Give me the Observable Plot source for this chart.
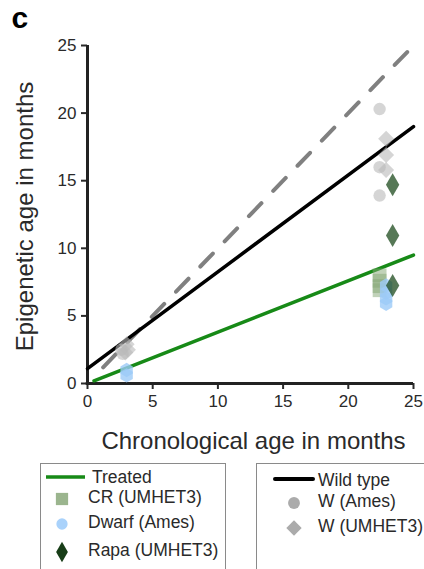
<!DOCTYPE html>
<html>
<head>
<meta charset="utf-8">
<script src="https://cdn.jsdelivr.net/npm/d3@7"></script>
<script src="https://cdn.jsdelivr.net/npm/@observablehq/plot@0.6"></script>
<style>
  html, body { margin: 0; padding: 0; background: #fff; }
  #chart { width: 424px; font-family: "Liberation Sans", Arial, Helvetica, sans-serif; }
  #chart svg { display: block; }
</style>
</head>
<body>
<div id="chart"></div>
<script>
// Epigenetic vs chronological age (months) for treated and wild-type mice.

const axisTicks = [0, 5, 10, 15, 20, 25];

// Wild type, Ames background (circles)
const wAmesAge   = [2.7, 2.6, 22.4, 22.4, 22.4];
const wAmesEpi   = [2.2, 2.5, 20.3, 16.0, 13.9];

// Wild type, UMHET3 background (diamonds)
const wUmhetAge  = [3.0, 3.1, 2.9, 22.9, 22.9, 22.9];
const wUmhetEpi  = [2.9, 2.5, 2.3, 18.1, 16.9, 15.8];

// Calorie restriction, UMHET3
const crAge      = [22.4, 22.4, 22.4, 22.4];
const crEpi      = [8.0, 7.6, 7.2, 6.9];

// Ames dwarf
const dwarfAge   = [3.0, 3.0, 22.9, 22.9, 22.9, 22.9];
const dwarfEpi   = [1.0, 0.6, 7.25, 6.7, 6.3, 5.9];

// Rapamycin, UMHET3
const rapaAge    = [23.4, 23.4, 23.4];
const rapaEpi    = [14.7, 10.95, 7.25];

// Reference line (epigenetic = chronological) and fitted lines
const identityAge = [1.2, 25];
const identityEpi = [1.2, 25];
const wildFitAge  = [0, 25];
const wildFitEpi  = [1.1, 19.0];
const treatFitAge = [0.5, 25];
const treatFitEpi = [0.2, 9.5];

const pts = (xs, ys) => xs.map((x, i) => ({x, y: ys[i]}));

const colors = {
  wild: "#000000",
  treated: "#178a17",
  identity: "#808080",
  grey: "#b9b9b9",
  cr: "#84a574",
  dwarf: "#9ccbf8",
  rapa: "#1d4b1d"
};

const fontStack = "'Liberation Sans', Arial, Helvetica, sans-serif";

const plot = Plot.plot({
  width: 424,
  height: 455,
  marginLeft: 87,
  marginRight: 11,
  marginTop: 45,
  marginBottom: 72,
  style: {
    fontFamily: fontStack,
    fontSize: "17px",
    color: "#2a2a2a",
    background: "#fff"
  },
  x: {domain: [0, 25]},
  y: {domain: [0, 25]},
  marks: [
    Plot.axisX({ticks: axisTicks, tickSize: 6, tickPadding: 5, strokeWidth: 2, label: null, fontSize: 17}),
    Plot.axisY({ticks: axisTicks, tickSize: 6, tickPadding: 5, strokeWidth: 2, label: null, fontSize: 17}),
    Plot.ruleX([0], {y1: 0, y2: 25, stroke: "#222", strokeWidth: 3}),
    Plot.ruleY([0], {x1: -0.1, x2: 25, stroke: "#222", strokeWidth: 3}),

    Plot.line(pts(identityAge, identityEpi), {x: "x", y: "y", stroke: colors.identity, strokeWidth: 4, strokeDasharray: "18,17"}),
    Plot.line(pts(wildFitAge, wildFitEpi), {x: "x", y: "y", stroke: colors.wild, strokeWidth: 3.5}),
    Plot.line(pts(treatFitAge, treatFitEpi), {x: "x", y: "y", stroke: colors.treated, strokeWidth: 3.5}),

    Plot.dot(pts(wAmesAge, wAmesEpi), {x: "x", y: "y", symbol: "circle", r: 6.2, fill: colors.grey, fillOpacity: 0.6}),
    Plot.dot(pts(wUmhetAge, wUmhetEpi), {x: "x", y: "y", symbol: "diamond2", r: 7.2, fill: colors.grey, fillOpacity: 0.6}),
    Plot.dot(pts(crAge, crEpi), {x: "x", y: "y", symbol: "square", r: 7.8, fill: colors.cr, fillOpacity: 0.5}),
    Plot.dot(pts(dwarfAge, dwarfEpi), {x: "x", y: "y", symbol: "hexagon", r: 6.2, fill: colors.dwarf, fillOpacity: 0.8}),
    Plot.dot(pts(rapaAge, rapaEpi), {x: "x", y: "y", symbol: "diamond", r: 7.0, fill: colors.rapa, fillOpacity: 0.75}),

    Plot.text(["Epigenetic age in months"], {frameAnchor: "left", rotate: -90, textAnchor: "middle", lineAnchor: "middle", dx: -62, dy: 2, fontSize: 24, fill: "#2a2a2a"}),
    Plot.text(["Chronological age in months"], {frameAnchor: "bottom", textAnchor: "middle", lineAnchor: "middle", dy: 58, dx: 3, fontSize: 24, fill: "#2a2a2a"}),
    Plot.text(["c"], {frameAnchor: "top-left", textAnchor: "start", lineAnchor: "middle", dx: -76, dy: -27, fontSize: 30, fontWeight: "bold", fill: "#000"})
  ]
});

document.getElementById("chart").append(plot);

// Legend drawn below the plot
const legendItems = {
  treated: [
    {label: "CR (UMHET3)", symbol: d3.symbolSquare, size: 150, color: "#9bb58e", y: 499},
    {label: "Dwarf (Ames)", symbol: d3.symbolCircle, size: 100, color: "#a9d2fb", y: 524},
    {label: "Rapa (UMHET3)", symbol: d3.symbolDiamond, size: 120, color: "#173d17", y: 552}
  ],
  wild: [
    {label: "W (Ames)", symbol: d3.symbolCircle, size: 110, color: "#ababab", y: 503},
    {label: "W (UMHET3)", symbol: d3.symbolDiamond2, size: 150, color: "#ababab", y: 528}
  ]
};

const top0 = 455;
const legend = d3.create("svg")
  .attr("width", 424)
  .attr("height", 114)
  .attr("font-family", fontStack)
  .attr("font-size", 17.5)
  .attr("fill", "#2a2a2a");

legend.append("rect").attr("x", 40.5).attr("y", 463.5 - top0).attr("width", 185).attr("height", 130)
  .attr("fill", "none").attr("stroke", "#8a8a8a");
legend.append("rect").attr("x", 256.5).attr("y", 463.5 - top0).attr("width", 185).attr("height", 130)
  .attr("fill", "none").attr("stroke", "#8a8a8a");

legend.append("line").attr("x1", 46).attr("x2", 85).attr("y1", 477 - top0).attr("y2", 477 - top0)
  .attr("stroke", colors.treated).attr("stroke-width", 3.5);
legend.append("text").attr("x", 92).attr("y", 477 - top0).attr("dy", "0.35em").text("Treated");

legend.append("line").attr("x1", 275).attr("x2", 313).attr("y1", 479 - top0).attr("y2", 479 - top0)
  .attr("stroke", colors.wild).attr("stroke-width", 4).attr("stroke-linecap", "round");
legend.append("text").attr("x", 318).attr("y", 480 - top0).attr("dy", "0.35em").text("Wild type");

for (const d of legendItems.treated) {
  legend.append("path").attr("transform", `translate(62,${d.y - top0})`)
    .attr("d", d3.symbol(d.symbol, d.size)()).attr("fill", d.color);
  legend.append("text").attr("x", 88).attr("y", d.y - 2 - top0).attr("dy", "0.35em").text(d.label);
}
for (const d of legendItems.wild) {
  legend.append("path").attr("transform", `translate(294,${d.y - top0})`)
    .attr("d", d3.symbol(d.symbol, d.size)()).attr("fill", d.color);
  legend.append("text").attr("x", 318).attr("y", d.y - 2 - top0).attr("dy", "0.35em").text(d.label);
}

document.getElementById("chart").append(legend.node());
</script>
</body>
</html>
